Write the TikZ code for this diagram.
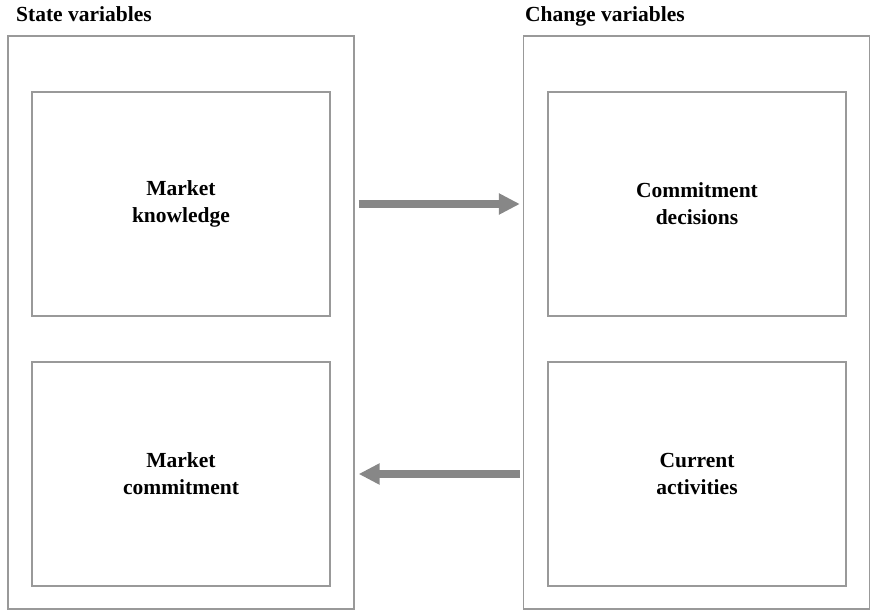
\documentclass[tikz,border=0pt]{standalone}
\usepackage{fontspec}
\setmainfont{Liberation Serif}
\usetikzlibrary{arrows.meta}
\begin{document}
\begin{tikzpicture}[x=1pt,y=-1pt,
  panel/.style={draw=black!40, line width=1.3pt, inner sep=0pt},
  outerbox/.style={panel, minimum width=346pt, minimum height=573pt},
  innerbox/.style={panel, minimum width=298pt, minimum height=224pt,
    align=center, font=\fontsize{21.5}{27}\selectfont\bfseries},
  heading/.style={anchor=base west, inner sep=0pt, font=\fontsize{21.5}{26}\selectfont\bfseries},
  flow/.style={draw=black!47, line width=7.5pt,
    -{Triangle[length=21pt,width=20pt]}}
]
\useasboundingbox (0,0) rectangle (872,612);

% two outer panels
\node[outerbox] (state)  at (181,322.5) {};
\node[outerbox] (change) at (696.5,322.5) {};

\node[heading] (stateT)  at (16,22)  {State variables};
\node[heading] (changeT) at (525,22) {Change variables};

% inner boxes
\node[innerbox] (mk) at (181,204) {Market\\knowledge};
\node[innerbox] (mc) at (181,474) {Market\\commitment};
\node[innerbox] (cd) at (697,204) {Commitment\\decisions};
\node[innerbox] (ca) at (697,474) {Current\\activities};

% flows between the panels
\draw[flow] ([xshift=4pt]state.east |- mk.center) -- ([xshift=-3pt]change.west |- cd.center);
\draw[flow] ([xshift=-3pt]change.west |- ca.center) -- ([xshift=4pt]state.east |- mc.center);
\end{tikzpicture}
\end{document}
